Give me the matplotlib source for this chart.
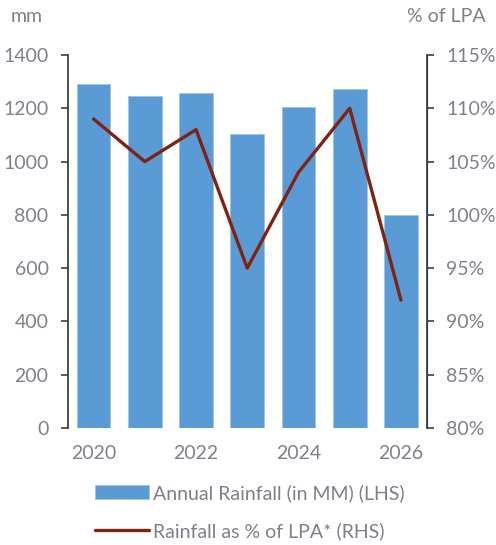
import matplotlib.pyplot as plt
import matplotlib.ticker as mticker

years = [2020, 2021, 2022, 2023, 2024, 2025, 2026]
rain_mm = [1290, 1247, 1256, 1104, 1206, 1274, 801]
pct_lpa = [109, 105, 108, 95, 104, 110, 92]
year_labels = ['2020', '', '2022', '', '2024', '', '2026']

bar_col = '#5B9BD5'
line_col = '#7F2312'
txt_col = '#857D8C'
axis_col = '#404040'
fs = 14

plt.rcParams['font.family'] = ['Lato', 'DejaVu Sans']

fig = plt.figure(figsize=(4.96, 5.45), dpi=100)
ax = fig.add_axes([0.137, 0.2147, 0.723, 0.6843])
ax2 = ax.twinx()

x = list(range(len(years)))
bars = ax.bar(x, rain_mm, width=0.66, color=bar_col, edgecolor='#9DC3E6', linewidth=0.6,
              label='Annual Rainfall (in MM) (LHS)', zorder=2)
ln, = ax2.plot(x, pct_lpa, color=line_col, lw=2.4, solid_capstyle='round',
               label='Rainfall as % of LPA* (RHS)', zorder=3)

ax.set_xlim(-0.5, 6.5)
ax.set_ylim(0, 1400)
ax.set_yticks(range(0, 1401, 200))
ax2.set_ylim(80, 115)
ax2.set_yticks(range(80, 116, 5))
ax2.yaxis.set_major_formatter(mticker.FuncFormatter(lambda v, p: f'{v:.0f}%'))

ax.set_xticks(x)
ax.set_xticklabels(year_labels)

for a in (ax, ax2):
    for s in ('top', 'bottom'):
        a.spines[s].set_visible(False)
    a.tick_params(colors=axis_col, labelcolor=txt_col, labelsize=fs, width=1.2, length=5)
ax.spines['left'].set_color(axis_col)
ax.spines['left'].set_linewidth(1.3)
ax2.spines['right'].set_color(axis_col)
ax2.spines['right'].set_linewidth(1.3)
ax2.spines['left'].set_visible(False)
ax.tick_params(axis='x', length=0, pad=12)
ax.tick_params(axis='y', pad=9)
ax2.tick_params(axis='y', pad=9)

fig.text(0.022, 0.97, 'mm', color=txt_col, fontsize=fs, va='center', ha='left')
fig.text(0.82, 0.97, '% of LPA', color=txt_col, fontsize=fs, va='center', ha='left')

fig.legend(handles=[bars, ln], loc='upper left', bbox_to_anchor=(0.172, 0.13),
           frameon=False, fontsize=fs, labelcolor=txt_col, handlelength=2.75,
           handleheight=0.8, handletextpad=0.25, labelspacing=1.05, borderpad=0)

fig.savefig('out.png', dpi=100)
